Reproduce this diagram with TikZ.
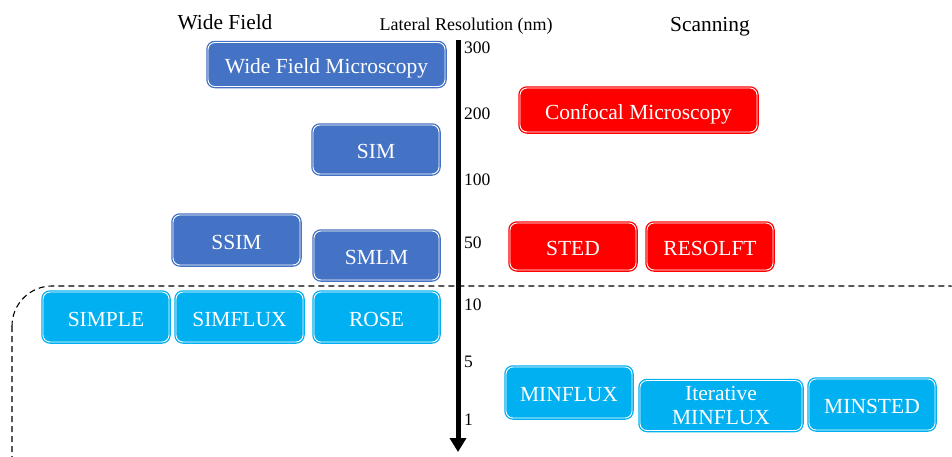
\documentclass[tikz,border=0pt]{standalone}
\usepackage{fontspec}
\setmainfont{Liberation Serif}
\usetikzlibrary{arrows.meta}
\definecolor{wfblue}{HTML}{4472C4}
\definecolor{scred}{HTML}{FF0000}
\definecolor{cyanb}{HTML}{00B0F0}
\begin{document}
\begin{tikzpicture}[x=1pt,y=-1pt,
  mbox/.style={rounded corners=7pt, draw=#1, fill=#1, double=white, double distance=0.9pt, line width=1.3pt, text=white, font=\fontsize{21.5}{23}\selectfont, align=center, inner sep=0pt, text height=19pt, text depth=1pt},
  tick/.style={anchor=west, font=\fontsize{17.5}{19}\selectfont, inner sep=0pt},
  head/.style={font=\fontsize{21.4}{23}\selectfont, inner sep=0pt}]
\useasboundingbox (0,0) rectangle (952,456);
\begin{scope}
\clip (0,0) rectangle (952,456);
\draw[dashed, dash pattern=on 6pt off 4pt, line width=1.1pt, rounded corners=40pt] (12,286) rectangle (990,500);
\end{scope}
% boxes
\node[mbox=wfblue, minimum width=237pt, minimum height=44pt] (wfm) at (326.5,64.5) {Wide Field Microscopy};
\node[mbox=scred, minimum width=237pt, minimum height=44pt] (conf) at (638.5,110) {Confocal Microscopy};
\node[mbox=wfblue, minimum width=126pt, minimum height=49pt] (sim) at (376,149.5) {SIM};
\node[mbox=wfblue, minimum width=127pt, minimum height=50pt] (ssim) at (236.5,240) {SSIM};
\node[mbox=wfblue, minimum width=125pt, minimum height=49pt] (smlm) at (376.5,255.5) {SMLM};
\node[mbox=scred, minimum width=126pt, minimum height=47pt] (sted) at (573,246.5) {STED};
\node[mbox=scred, minimum width=126pt, minimum height=47pt] (resolft) at (710,246.5) {RESOLFT};
\node[mbox=cyanb, minimum width=126pt, minimum height=50pt] (simple) at (106,317) {SIMPLE};
\node[mbox=cyanb, minimum width=127pt, minimum height=50pt] (simflux) at (239.5,317) {SIMFLUX};
\node[mbox=cyanb, minimum width=125pt, minimum height=50pt] (rose) at (376.5,317) {ROSE};
\node[mbox=cyanb, minimum width=126pt, minimum height=51pt] (minflux) at (569,392.5) {MINFLUX};
\node[mbox=cyanb, minimum width=162pt, minimum height=50pt, font=\fontsize{21.5}{24.5}\selectfont, text height=, text depth=] (iter) at (721,405.5) {Iterative\\MINFLUX};
\node[mbox=cyanb, minimum width=126pt, minimum height=51pt] (minsted) at (872,404.5) {MINSTED};
% axis
\coordinate (atop) at (458,40);
\coordinate (abot) at (458,452);
\draw[line width=5pt, -{Triangle[length=14pt,width=16pt]}] (atop) -- (abot);
\node[tick] (t300) at (464,48) {300};
\node[tick] (t200) at (464,114) {200};
\node[tick] (t100) at (464,180) {100};
\node[tick] (t50) at (464,243) {50};
\node[tick] (t10) at (464,305) {10};
\node[tick] (t5) at (464,362) {5};
\node[tick] (t1) at (464,420) {1};
\node[font=\fontsize{18}{20}\selectfont, inner sep=0pt] (ttl) at (466,26) {Lateral Resolution (nm)};
\node[head] (hwf) at (225,22) {Wide Field};
\node[head] (hsc) at (710,27) {Scanning};
\end{tikzpicture}
\end{document}
